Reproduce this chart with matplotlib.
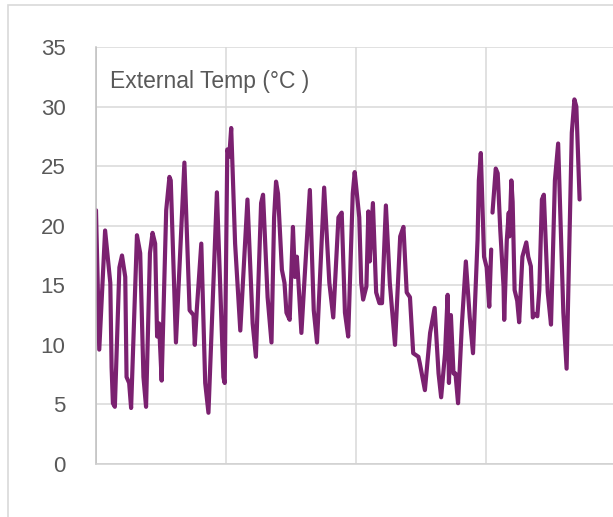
import numpy as np
import matplotlib.pyplot as plt
from matplotlib.patches import Rectangle

plt.rcParams['font.family'] = ['Liberation Sans', 'DejaVu Sans']

# hour index and external temperature (deg C)
hours = [0, 5, 14, 22, 24, 26, 29, 36, 40, 45, 47, 51, 54, 63, 68, 73, 77, 83, 87, 91,
         94, 97, 101, 108, 113, 115, 123, 136, 144, 150, 152, 155, 162, 168, 173, 186,
         196, 198, 202, 205, 208, 214, 222, 233, 241, 246, 254, 257, 264, 270, 274,
         277, 280, 286, 290, 293, 298, 303, 306, 309, 311, 316, 321, 329, 335, 340,
         351, 359, 365, 373, 378, 383, 388, 395, 398, 405, 408, 411, 416, 419, 421,
         426, 431, 436, 440, 446, 452, 460, 468, 473, 478, 483, 488, 496, 498, 506,
         514, 521, 527, 531, 537, 541, 543, 546, 550, 553, 557, 563, 569, 575, 580,
         587, 589, 592, 597, 601, 605, 608, 609, 610, 615, 618, 622, 627, 628, 632,
         635, 636, 639, 641, 644, 648, 651, 656, 662, 665, 669, 672, 675, 679, 682,
         686, 689, 695, 700, 706, 711, 719, 724, 732, 736, 739, 744]
temps = [21.3, 9.6, 19.6, 15.2, 8.1, 5.1, 4.8, 16.5, 17.5, 15.7, 7.3, 6.8, 4.7, 19.2,
         17.7, 7.3, 4.8, 17.7, 19.4, 18.5, 10.7, 11.8, 7.0, 21.3, 24.1, 23.8, 10.2,
         25.3, 12.9, 12.5, 10.0, 12.9, 18.5, 6.8, 4.3, 22.8, 7.3, 6.8, 26.4, 25.8,
         28.2, 18.5, 11.2, 22.2, 11.8, 9.0, 21.9, 22.6, 14.0, 10.2, 20.7, 23.7, 22.7,
         16.3, 15.2, 12.7, 12.1, 19.9, 15.7, 17.4, 15.7, 11.0, 15.7, 23.0, 12.9, 10.2,
         23.2, 15.2, 12.3, 20.7, 21.1, 12.7, 10.7, 22.7, 24.5, 20.7, 15.2, 13.8, 14.9,
         21.2, 17.0, 21.9, 14.4, 13.5, 13.5, 21.7, 15.2, 10.0, 19.1, 19.9, 14.4, 14.0,
         9.3, 9.0, 8.5, 6.2, 11.0, 13.1, 7.6, 5.6, 9.3, 14.2, 6.8, 12.5, 7.6, 7.6, 5.1,
         11.8, 17.0, 12.3, 9.3, 18.8, 23.8, 26.1, 17.4, 16.5, 13.2, 18.0, np.nan, 21.1,
         24.8, 24.4, 19.6, 14.9, 12.1, 18.8, 21.1, 19.1, 23.8, 22.0, 14.6, 13.7, 11.9,
         17.4, 18.6, 17.4, 16.6, 12.3, 12.6, 12.4, 14.6, 22.2, 22.6, 14.4, 11.7, 23.8,
         26.9, 12.7, 8.0, 27.8, 30.6, 30.0, 22.2]
y_ticks = [0, 5, 10, 15, 20, 25, 30, 35]
x_grid = [0, 200, 400, 600, 800]
title = 'External Temp (°C )'

fig = plt.figure(figsize=(6.13, 5.17), dpi=100)
fig.patches.append(Rectangle((8/613, -0.1), 1.2, 1.1 - 5/517, transform=fig.transFigure,
                             fill=False, edgecolor='#D9D9D9', linewidth=1.2))
ax = fig.add_axes([96/613, 53/517, 520/613, 417/517])

ax.plot(hours, temps, color='#7B2170', linewidth=3.0, solid_joinstyle='round',
        solid_capstyle='round')

ax.set_xlim(0, 800)
ax.set_ylim(0, 35)
ax.set_yticks(y_ticks)
ax.set_xticks(x_grid)
ax.set_xticklabels([])
ax.tick_params(axis='both', length=0)
ax.tick_params(axis='y', pad=22, labelsize=16, labelcolor='#595959')
ax.grid(True, color='#D9D9D9', linewidth=1.1)
ax.set_axisbelow(True)
for s in ['top', 'right']:
    ax.spines[s].set_visible(False)
ax.spines['left'].set_color('#BFBFBF')
ax.spines['left'].set_linewidth(1.1)
ax.spines['bottom'].set_color('#D0D0D0')
ax.spines['bottom'].set_linewidth(1.1)

ax.text(0.027, 0.917, title, transform=ax.transAxes, fontsize=16.5, color='#595959',
        va='center', ha='left')

fig.savefig('out.png', dpi=100)
